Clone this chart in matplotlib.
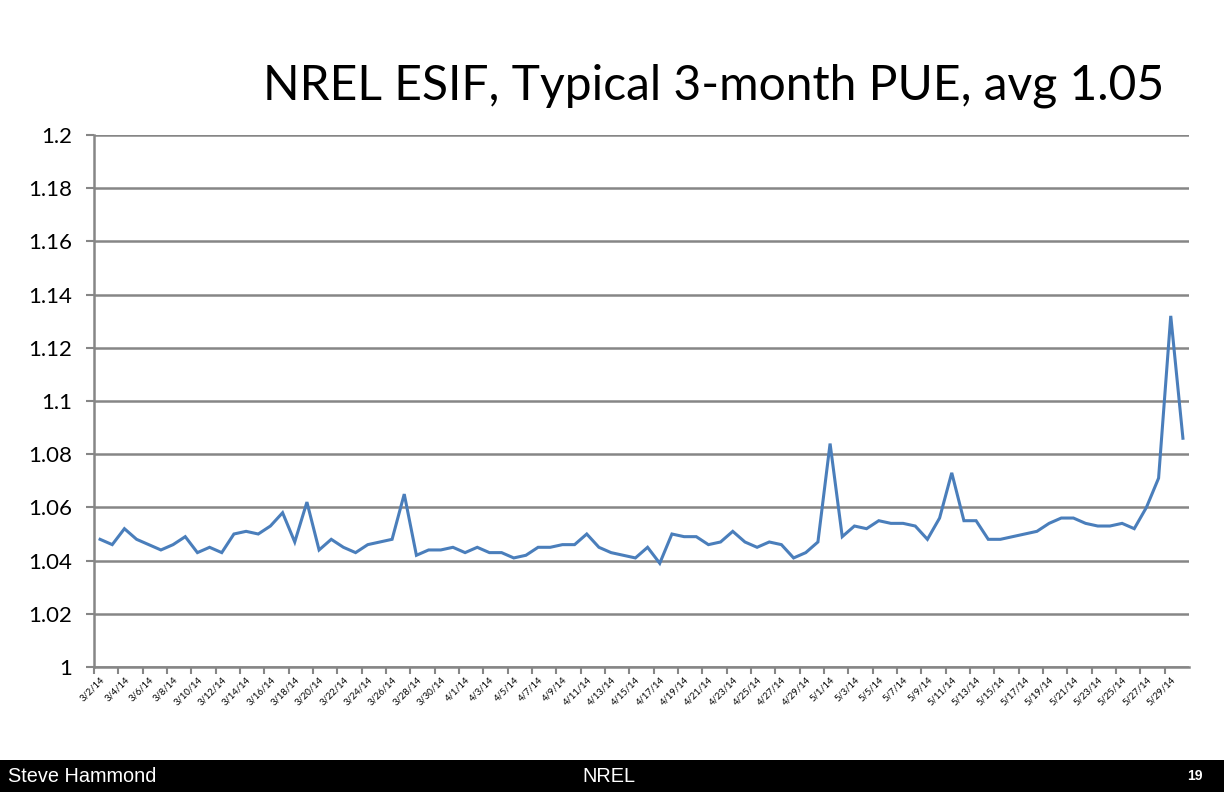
import matplotlib
matplotlib.use("Agg")
import matplotlib.pyplot as plt
import pandas as pd

# Datos: PUE diario, 3/2/14 a 5/30/14
fechas = pd.date_range("2014-03-02", "2014-05-30", freq="D")
etiquetas = [f"{d.month}/{d.day}/14" for d in fechas]

pue = [
    1.048, 1.046, 1.052, 1.048, 1.046, 1.044, 1.046, 1.049, 1.043, 1.045,
    1.043, 1.050, 1.051, 1.050, 1.053, 1.058, 1.047, 1.062, 1.044, 1.048,
    1.045, 1.043, 1.046, 1.047, 1.048, 1.065, 1.042, 1.044, 1.044, 1.045,
    1.043, 1.045, 1.043, 1.043, 1.041, 1.042, 1.045, 1.045, 1.046, 1.046,
    1.050, 1.045, 1.043, 1.042, 1.041, 1.045, 1.039, 1.050, 1.049, 1.049,
    1.046, 1.047, 1.051, 1.047, 1.045, 1.047, 1.046, 1.041, 1.043, 1.047,
    1.084, 1.049, 1.053, 1.052, 1.055, 1.054, 1.054, 1.053, 1.048, 1.056,
    1.073, 1.055, 1.055, 1.048, 1.048, 1.049, 1.050, 1.051, 1.054, 1.056,
    1.056, 1.054, 1.053, 1.053, 1.054, 1.052, 1.060, 1.071, 1.132, 1.086,
]

yticks = [1, 1.02, 1.04, 1.06, 1.08, 1.1, 1.12, 1.14, 1.16, 1.18, 1.2]
ylabels = ["1", "1.02", "1.04", "1.06", "1.08", "1.1", "1.12", "1.14", "1.16", "1.18", "1.2"]

titulo = "NREL ESIF, Typical 3-month PUE, avg 1.05"
autor = "Steve Hammond"
centro = "NREL"
pagina = "19"

gris = "#868686"

fig = plt.figure(figsize=(12.24, 7.92), dpi=100)
ax = fig.add_axes([94 / 1224, 1 - 667 / 792, 1095 / 1224, 532 / 792])

x = list(range(len(pue)))
ax.plot(x, pue, color="#4a7ebb", linewidth=2.2, solid_joinstyle="miter")

ax.set_xlim(-0.5, len(pue) - 0.5)
ax.set_ylim(1, 1.2)

# Ejes y rejilla
ax.set_yticks(yticks)
ax.set_yticklabels(ylabels, fontsize=16, family="Lato")
ax.yaxis.grid(True, color=gris, linewidth=1.8)
ax.set_axisbelow(True)
for lado in ["top", "right"]:
    ax.spines[lado].set_visible(False)
for lado in ["left", "bottom"]:
    ax.spines[lado].set_color(gris)
    ax.spines[lado].set_linewidth(1.8)
ax.tick_params(axis="y", length=6, width=1.5, color=gris, pad=10)

# Marcas entre categorías cada 2 días, etiquetas en el centro
ax.set_xticks([i - 0.5 for i in range(0, len(pue), 2)])
ax.set_xticklabels([])
ax.tick_params(axis="x", which="major", length=5, width=1.5, color=gris)
ax.set_xticks(x[::2], minor=True)
ax.set_xticklabels(etiquetas[::2], minor=True, rotation=45, ha="right",
                   rotation_mode="anchor", fontsize=6.8, family="Lato")
ax.tick_params(axis="x", which="minor", length=0, pad=6)

fig.text(714 / 1224, 1 - 86 / 792, titulo, ha="center", va="center",
         fontsize=34.6, family="Lato")

# Barra inferior
barra = fig.add_axes([0, 0, 1, 32 / 792])
barra.set_facecolor("black")
barra.set_xticks([])
barra.set_yticks([])
for s in barra.spines.values():
    s.set_visible(False)
fig.text(8 / 1224, 16 / 792, autor, color="white", fontsize=14.3,
         family="Liberation Sans", va="center", ha="left")
fig.text(609 / 1224, 16 / 792, centro, color="white", fontsize=14.3,
         family="Liberation Sans", va="center", ha="center")
fig.text(1195 / 1224, 16 / 792, pagina, color="white", fontsize=10,
         fontweight="bold", family="Liberation Sans", va="center", ha="center")

fig.savefig("out.png", dpi=100)
